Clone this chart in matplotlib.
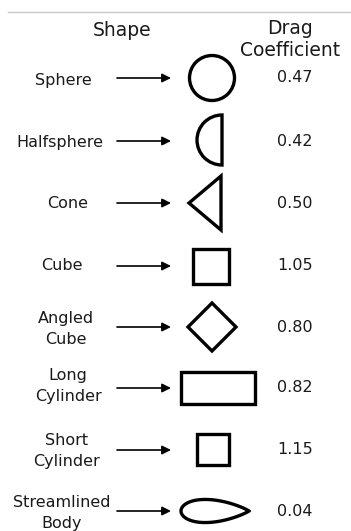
import numpy as np
import matplotlib.pyplot as plt
from matplotlib.patches import Circle, Wedge, Polygon, Rectangle

# data
shapes = ['Sphere', 'Halfsphere', 'Cone', 'Cube', 'Angled\nCube',
          'Long\nCylinder', 'Short\nCylinder', 'Streamlined\nBody']
drag = ['0.47', '0.42', '0.50', '1.05', '0.80', '0.82', '1.15', '0.04']

# layout (pixel units, y downwards)
row_y = [78, 141, 203, 266, 327, 388, 450, 511]
label_y = [81, 142, 203, 265, 329, 386, 451, 513]
label_x = [63, 60, 68, 62, 66, 68, 67, 62]
sx = 212  # shape centre column
vx = 295  # value column

fig = plt.figure(figsize=(3.51, 5.31), dpi=100)
ax = fig.add_axes([0, 0, 1, 1])
ax.set_xlim(0, 351)
ax.set_ylim(531, 0)
ax.axis('off')

tc = '#1a1a1a'
lw = 2.4

ax.plot([8, 351], [12, 12], color='#c8c8c8', lw=1)
ax.text(122, 31, 'Shape', ha='center', va='center', fontsize=13.5, color=tc)
ax.text(290, 39, 'Drag\nCoefficient', ha='center', va='center', fontsize=13.5,
        color=tc, linespacing=1.2)

for name, cd, y, ly, lx in zip(shapes, drag, row_y, label_y, label_x):
    ax.text(lx, ly, name, ha='center', va='center', fontsize=11.5, color=tc,
            linespacing=1.45)
    ax.text(vx, y, cd, ha='center', va='center', fontsize=11.5, color=tc)
    ax.annotate('', xy=(171, y), xytext=(117, y),
                arrowprops=dict(arrowstyle='-|>', color='k', lw=1.2,
                                mutation_scale=13, shrinkA=0, shrinkB=0))

kw = dict(fill=False, ec='k', lw=lw)
ax.add_patch(Circle((sx, row_y[0]), 22.5, **kw))
ax.add_patch(Wedge((222, 140), 25, 90, 270, **kw))
ax.add_patch(Polygon([(189, row_y[2]), (221, row_y[2] - 27), (221, row_y[2] + 27)],
                     closed=True, joinstyle='miter', **kw))
ax.add_patch(Rectangle((193, row_y[3] - 17.5), 36, 35, joinstyle='miter', **kw))
ax.add_patch(Polygon([(188, row_y[4]), (212, row_y[4] - 24), (236, row_y[4]),
                      (212, row_y[4] + 24)], closed=True, joinstyle='miter', **kw))
ax.add_patch(Rectangle((181, row_y[5] - 16), 74, 32, joinstyle='miter', **kw))
ax.add_patch(Rectangle((197, row_y[6] - 16), 32, 31, joinstyle='miter', **kw))

# teardrop outline for the streamlined body
t = np.linspace(0, 2 * np.pi, 240)
tx = 215 + 34 * np.cos(t)
ty = row_y[7] + 11.5 * np.sin(t) * np.abs(np.sin(t / 2)) ** 0.8 / 0.8
ax.add_patch(Polygon(np.column_stack([tx, ty]), closed=True, **kw))

fig.savefig('out.png', dpi=100, facecolor='white')
